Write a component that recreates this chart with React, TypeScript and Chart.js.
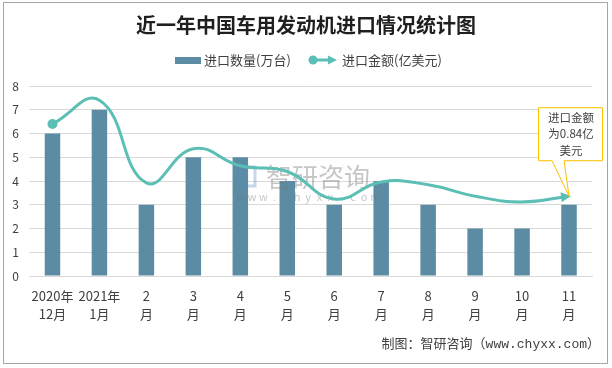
import React, { useEffect, useRef } from 'react';
import { Chart, registerables } from 'chart.js';
Chart.register(...registerables);

const categories: string[][] = [
  ['2020年', '12月'], ['2021年', '1月'], ['2', '月'], ['3', '月'], ['4', '月'], ['5', '月'],
  ['6', '月'], ['7', '月'], ['8', '月'], ['9', '月'], ['10', '月'], ['11', '月'],
];
const quantity: number[] = [6, 7, 3, 5, 5, 4, 3, 4, 3, 2, 2, 3];
const amount: number[] = [1.6, 1.85, 0.98, 1.34, 1.16, 1.1, 0.81, 0.99, 0.96, 0.84, 0.78, 0.84];
const yMax = 8;
const yStep = 1;
const amountAxisMax = 2;
const titleText = '近一年中国车用发动机进口情况统计图';
const legendBarText = '进口数量(万台)';
const legendLineText = '进口金额(亿美元)';
const calloutIndex = 11;
const calloutLines: string[] = ['进口金额', '为0.84亿', '美元'];
const sourceText = '制图：智研咨询（www.chyxx.com）';
const watermarkText = '智研咨询';
const watermarkUrl = 'www.chyxx.com';

const CJK = '"Noto Sans CJK SC", "Noto Sans", sans-serif';
const BAR = '#5B8CA4';
const LINE = '#5CBFB5';
const TEXT = '#404040';

function arrowHead(ctx: CanvasRenderingContext2D, tx: number, ty: number, ang: number, len: number, hw: number) {
  ctx.save();
  ctx.translate(tx, ty);
  ctx.rotate(ang);
  ctx.beginPath();
  ctx.moveTo(0, 0);
  ctx.lineTo(-len, -hw);
  ctx.lineTo(-len, hw);
  ctx.closePath();
  ctx.fill();
  ctx.restore();
}

const decorPlugin = {
  id: 'decor',
  afterDatasetDraw(chart: any, args: any) {
    if (args.index !== 0) return;
    const ctx: CanvasRenderingContext2D = chart.ctx;
    ctx.save();
    // watermark
    ctx.strokeStyle = 'rgba(90,140,200,0.35)';
    ctx.lineWidth = 3;
    ctx.strokeRect(240, 167, 15, 19);
    ctx.fillStyle = 'rgba(120,120,120,0.42)';
    ctx.font = `26px ${CJK}`;
    ctx.textAlign = 'left';
    ctx.textBaseline = 'middle';
    ctx.fillText(watermarkText, 266, 177);
    ctx.font = `11px ${CJK}`;
    ctx.textAlign = 'center';
    const chars = watermarkUrl.split('');
    chars.forEach((c, i) => ctx.fillText(c, 241 + i * 11.2, 197));
    ctx.restore();
  },
  afterDatasetsDraw(chart: any) {
    const ctx: CanvasRenderingContext2D = chart.ctx;
    const meta = chart.getDatasetMeta(1);
    const p = meta.data[meta.data.length - 1];
    const ang = Math.atan2(p.y - p.cp1y, p.x - p.cp1x);
    ctx.save();
    ctx.fillStyle = LINE;
    arrowHead(ctx, p.x + Math.cos(ang) * 2, p.y + Math.sin(ang) * 2, ang, 10, 5);
    ctx.restore();
  },
  afterDraw(chart: any) {
    const ctx: CanvasRenderingContext2D = chart.ctx;
    ctx.save();
    // frame
    ctx.strokeStyle = '#A6A6A6';
    ctx.lineWidth = 1;
    ctx.strokeRect(3.5, 2.5, 604, 361);
    // title
    ctx.fillStyle = '#1F1F1F';
    ctx.font = `bold 20px ${CJK}`;
    ctx.textAlign = 'center';
    ctx.textBaseline = 'middle';
    ctx.fillText(titleText, 306, 25);
    // legend
    ctx.fillStyle = BAR;
    ctx.fillRect(175, 57, 26, 7);
    ctx.fillStyle = TEXT;
    ctx.font = `13px ${CJK}`;
    ctx.textAlign = 'left';
    ctx.fillText(legendBarText, 204, 60);
    ctx.strokeStyle = LINE;
    ctx.fillStyle = LINE;
    ctx.lineWidth = 3;
    ctx.beginPath();
    ctx.moveTo(313, 60);
    ctx.lineTo(329, 60);
    ctx.stroke();
    ctx.beginPath();
    ctx.arc(313, 60, 4.5, 0, Math.PI * 2);
    ctx.fill();
    arrowHead(ctx, 337, 60, 0, 9, 4.5);
    ctx.fillStyle = TEXT;
    ctx.fillText(legendLineText, 342, 60);
    // source
    ctx.font = `13px "Liberation Mono", ${CJK}`;
    ctx.textAlign = 'right';
    ctx.fillText(sourceText, 600, 345);
    // callout
    const tx = chart.scales.x.getPixelForValue(calloutIndex);
    const ty = chart.scales.y1.getPixelForValue(amount[calloutIndex]);
    const left = tx - 30.5, right = tx + 33.5, top = ty - 88.5, bottom = ty - 35.5;
    ctx.beginPath();
    ctx.moveTo(left, top);
    ctx.lineTo(right, top);
    ctx.lineTo(right, bottom);
    ctx.lineTo(tx - 5, bottom);
    ctx.lineTo(tx, ty);
    ctx.lineTo(tx - 17, bottom);
    ctx.lineTo(left, bottom);
    ctx.closePath();
    ctx.fillStyle = '#FFFFFF';
    ctx.fill();
    ctx.strokeStyle = '#FFC000';
    ctx.lineWidth = 1;
    ctx.stroke();
    ctx.fillStyle = TEXT;
    ctx.font = `11.5px ${CJK}`;
    ctx.textAlign = 'center';
    calloutLines.forEach((t, i) => ctx.fillText(t, tx + 2, ty - 79 + i * 16.5));
    ctx.restore();
  },
};

export default function App() {
  const ref = useRef<HTMLCanvasElement | null>(null);
  useEffect(() => {
    document.body.style.margin = '0';
    const canvas = ref.current;
    if (!canvas) return;
    const chart = new Chart(canvas, {
      type: 'bar',
      data: {
        labels: categories,
        datasets: [
          {
            type: 'bar',
            label: legendBarText,
            data: quantity,
            backgroundColor: BAR,
            barPercentage: 0.33,
            categoryPercentage: 1,
            yAxisID: 'y',
            order: 1,
          },
          {
            type: 'line',
            label: legendLineText,
            data: amount,
            yAxisID: 'y1',
            borderColor: LINE,
            backgroundColor: LINE,
            borderWidth: 3,
            tension: 0.45,
            pointRadius: (c: any) => (c.dataIndex === 0 ? 5 : 0),
            pointBorderWidth: 0,
            pointBackgroundColor: LINE,
            order: 0,
          } as any,
        ],
      },
      options: {
        responsive: false,
        animation: false,
        devicePixelRatio: 1,
        layout: { padding: { top: 86, right: 19.5, left: 0, bottom: 0 } },
        plugins: { legend: { display: false }, title: { display: false }, tooltip: { enabled: false } },
        scales: {
          x: {
            grid: { display: false, drawTicks: false },
            border: { display: true, color: '#D9D9D9' },
            ticks: {
              font: { size: 13, family: CJK, lineHeight: 1.4 },
              color: TEXT,
              padding: 11,
              autoSkip: false,
              maxRotation: 0,
              minRotation: 0,
            },
            afterFit: (s: any) => { s.height = 92; },
          },
          y: {
            min: 0,
            max: yMax,
            ticks: { stepSize: yStep, padding: 10, font: { size: 12, family: CJK }, color: TEXT },
            grid: { color: '#D9D9D9', drawTicks: false },
            border: { display: false },
            afterFit: (s: any) => { s.width = 29; },
          },
          y1: { display: false, min: 0, max: amountAxisMax, position: 'right' },
        },
      } as any,
      plugins: [decorPlugin],
    });
    return () => chart.destroy();
  }, []);
  return (
    <div style={{ width: 612, height: 368, position: 'relative', background: '#fff' }}>
      <canvas ref={ref} width={612} height={368} style={{ display: 'block' }} />
    </div>
  );
}
